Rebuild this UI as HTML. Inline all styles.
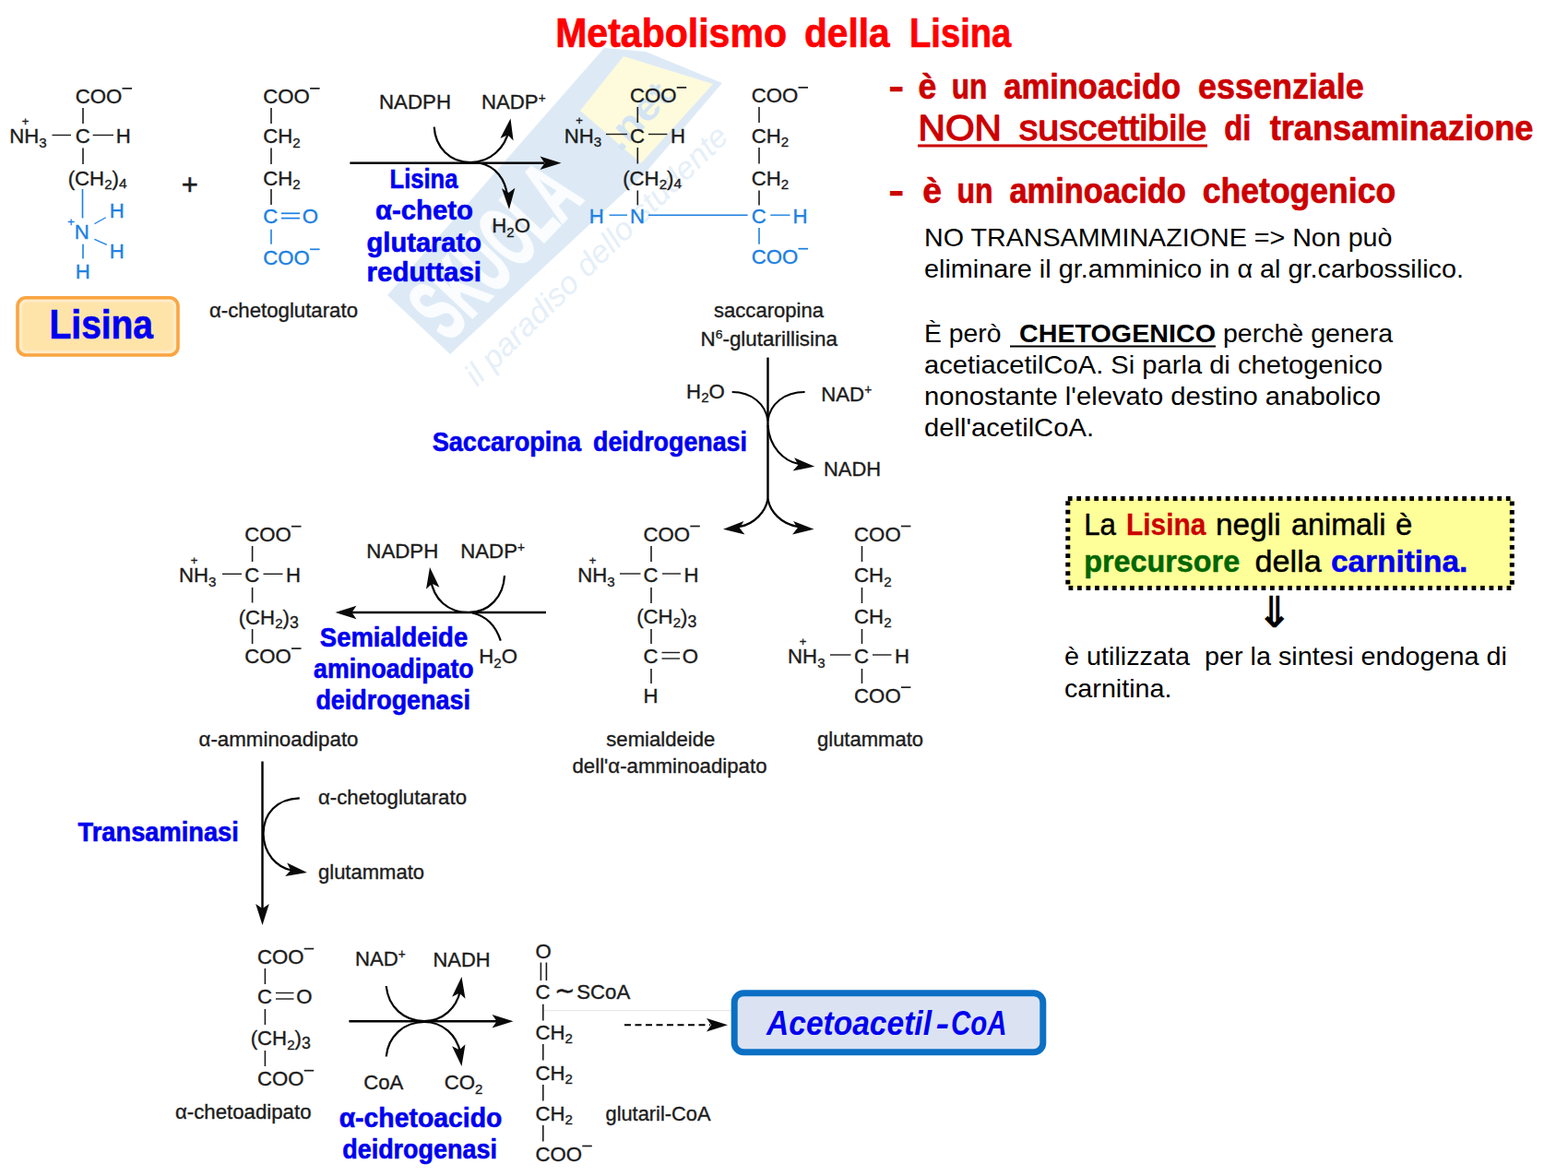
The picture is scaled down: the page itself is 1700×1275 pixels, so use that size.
<!DOCTYPE html>
<html lang="it">
<head>
<meta charset="utf-8">
<title>Metabolismo della Lisina</title>
<style>
html,body{margin:0;padding:0;background:#fff;}
body{width:1700px;height:1275px;overflow:hidden;font-family:'Liberation Sans',Arial,Helvetica,sans-serif;}
svg{display:block;position:absolute;left:0;top:0;}
text{font-family:'Liberation Sans',Arial,Helvetica,sans-serif;white-space:pre;}
</style>
</head>
<body>
<svg width="1700" height="1275" viewBox="0 0 1700 1275">
<rect x="0" y="0" width="1700" height="1275" fill="#ffffff"/>
<g>
<polygon points="420,320 655,52 700,56 783,90 700,187 488,384" fill="#ddeaf6"/>
<polygon points="676,61 773,91 695,177 629,120" fill="#fdfbdc"/>
<text transform="translate(486,372) rotate(-46.5)" font-size="96" font-weight="bold" fill="#fafcfe" stroke="#fafcfe" stroke-width="2.5" textLength="215" lengthAdjust="spacingAndGlyphs">SKUOLA</text>
<text transform="translate(672,166) rotate(-46)" font-size="42" font-weight="bold" fill="#d3e4f3" textLength="84" lengthAdjust="spacingAndGlyphs">.net</text>
<text transform="translate(517,420) rotate(-44.5)" font-size="34" font-style="italic" fill="#e6eff8" textLength="385" lengthAdjust="spacingAndGlyphs">il paradiso dello studente</text>
</g>
<text x="602.2" y="50.5" font-size="43.50" fill="#ff0000" font-weight="bold" textLength="250.8" lengthAdjust="spacingAndGlyphs" stroke="#ff0000" stroke-width="0.70" stroke-linejoin="round">Metabolismo</text>
<text x="872.0" y="50.5" font-size="43.50" fill="#ff0000" font-weight="bold" textLength="92.7" lengthAdjust="spacingAndGlyphs" stroke="#ff0000" stroke-width="0.70" stroke-linejoin="round">della</text>
<text x="986.0" y="50.5" font-size="43.50" fill="#ff0000" font-weight="bold" textLength="110.3" lengthAdjust="spacingAndGlyphs" stroke="#ff0000" stroke-width="0.70" stroke-linejoin="round">Lisina</text>
<text x="963.5" y="106.8" font-size="38.50" fill="#cc0000" font-weight="bold" textLength="16.5" lengthAdjust="spacingAndGlyphs" stroke="#cc0000" stroke-width="0.70" stroke-linejoin="round">-</text>
<text x="995.5" y="106.8" font-size="38.50" fill="#cc0000" font-weight="bold" textLength="19.8" lengthAdjust="spacingAndGlyphs" stroke="#cc0000" stroke-width="0.70" stroke-linejoin="round">è</text>
<text x="1031.8" y="106.8" font-size="38.50" fill="#cc0000" font-weight="bold" textLength="38.6" lengthAdjust="spacingAndGlyphs" stroke="#cc0000" stroke-width="0.70" stroke-linejoin="round">un</text>
<text x="1088.2" y="106.8" font-size="38.50" fill="#cc0000" font-weight="bold" textLength="192.0" lengthAdjust="spacingAndGlyphs" stroke="#cc0000" stroke-width="0.70" stroke-linejoin="round">aminoacido</text>
<text x="1299.0" y="106.8" font-size="38.50" fill="#cc0000" font-weight="bold" textLength="179.8" lengthAdjust="spacingAndGlyphs" stroke="#cc0000" stroke-width="0.70" stroke-linejoin="round">essenziale</text>
<text x="995.5" y="152.2" font-size="38.50" fill="#cc0000" textLength="90.4" lengthAdjust="spacingAndGlyphs" stroke="#cc0000" stroke-width="1.30" stroke-linejoin="round">NON</text>
<text x="1104.7" y="152.2" font-size="38.50" fill="#cc0000" textLength="203.8" lengthAdjust="spacingAndGlyphs" stroke="#cc0000" stroke-width="1.30" stroke-linejoin="round">suscettibile</text>
<line x1="995.0" y1="158.0" x2="1309.0" y2="158.0" stroke="#cc0000" stroke-width="3.00" />
<text x="1327.3" y="152.2" font-size="38.50" fill="#cc0000" font-weight="bold" textLength="29.2" lengthAdjust="spacingAndGlyphs" stroke="#cc0000" stroke-width="0.70" stroke-linejoin="round">di</text>
<text x="1376.7" y="152.2" font-size="38.50" fill="#cc0000" font-weight="bold" textLength="285.7" lengthAdjust="spacingAndGlyphs" stroke="#cc0000" stroke-width="0.70" stroke-linejoin="round">transaminazione</text>
<text x="963.5" y="219.8" font-size="38.50" fill="#cc0000" font-weight="bold" textLength="16.5" lengthAdjust="spacingAndGlyphs" stroke="#cc0000" stroke-width="0.70" stroke-linejoin="round">-</text>
<text x="1000.2" y="219.8" font-size="38.50" fill="#cc0000" font-weight="bold" textLength="20.8" lengthAdjust="spacingAndGlyphs" stroke="#cc0000" stroke-width="0.70" stroke-linejoin="round">è</text>
<text x="1037.4" y="219.8" font-size="38.50" fill="#cc0000" font-weight="bold" textLength="39.1" lengthAdjust="spacingAndGlyphs" stroke="#cc0000" stroke-width="0.70" stroke-linejoin="round">un</text>
<text x="1094.4" y="219.8" font-size="38.50" fill="#cc0000" font-weight="bold" textLength="191.5" lengthAdjust="spacingAndGlyphs" stroke="#cc0000" stroke-width="0.70" stroke-linejoin="round">aminoacido</text>
<text x="1303.8" y="219.8" font-size="38.50" fill="#cc0000" font-weight="bold" textLength="209.4" lengthAdjust="spacingAndGlyphs" stroke="#cc0000" stroke-width="0.70" stroke-linejoin="round">chetogenico</text>
<text x="1002.0" y="267.3" font-size="28.30" fill="#000000" textLength="507.5" lengthAdjust="spacingAndGlyphs">NO TRANSAMMINAZIONE =&gt; Non può</text>
<text x="1002.0" y="301.2" font-size="28.30" fill="#000000" textLength="585.0" lengthAdjust="spacingAndGlyphs">eliminare il gr.amminico in α al gr.carbossilico.</text>
<text x="1002.0" y="371.0" font-size="28.30" fill="#000000">È però </text>
<text x="1097.0" y="371.0" font-size="28.30" fill="#000000" font-weight="bold" textLength="221.0" lengthAdjust="spacingAndGlyphs"> CHETOGENICO</text>
<line x1="1095.0" y1="375.5" x2="1318.0" y2="375.5" stroke="#000000" stroke-width="2.20" />
<text x="1326.0" y="371.0" font-size="28.30" fill="#000000" textLength="184.0" lengthAdjust="spacingAndGlyphs">perchè genera</text>
<text x="1002.0" y="404.7" font-size="28.30" fill="#000000" textLength="497.0" lengthAdjust="spacingAndGlyphs">acetiacetilCoA. Si parla di chetogenico</text>
<text x="1002.0" y="438.6" font-size="28.30" fill="#000000" textLength="495.0" lengthAdjust="spacingAndGlyphs">nonostante l'elevato destino anabolico</text>
<text x="1002.0" y="473.0" font-size="28.30" fill="#000000" textLength="184.0" lengthAdjust="spacingAndGlyphs">dell'acetilCoA.</text>
<rect x="1157.8" y="540.5" width="481.5" height="97" fill="#ffff99" stroke="#000" stroke-width="5" stroke-dasharray="4.75 4.75"/>
<text x="1175.2" y="579.5" font-size="33.50" fill="#000000" textLength="34.8" lengthAdjust="spacingAndGlyphs" stroke="#000000" stroke-width="0.45" stroke-linejoin="round">La</text>
<text x="1221.0" y="579.5" font-size="33.50" fill="#cc0000" font-weight="bold" textLength="86.5" lengthAdjust="spacingAndGlyphs" stroke="#cc0000" stroke-width="0.30" stroke-linejoin="round">Lisina</text>
<text x="1318.0" y="579.5" font-size="33.50" fill="#000000" textLength="70.7" lengthAdjust="spacingAndGlyphs" stroke="#000000" stroke-width="0.45" stroke-linejoin="round">negli</text>
<text x="1400.0" y="579.5" font-size="33.50" fill="#000000" textLength="102.4" lengthAdjust="spacingAndGlyphs" stroke="#000000" stroke-width="0.45" stroke-linejoin="round">animali</text>
<text x="1513.0" y="579.5" font-size="33.50" fill="#000000" textLength="18.3" lengthAdjust="spacingAndGlyphs" stroke="#000000" stroke-width="0.45" stroke-linejoin="round">è</text>
<text x="1175.2" y="620.0" font-size="33.50" fill="#006600" font-weight="bold" textLength="169.0" lengthAdjust="spacingAndGlyphs" stroke="#006600" stroke-width="0.50" stroke-linejoin="round">precursore</text>
<text x="1360.5" y="620.0" font-size="33.50" fill="#000000" textLength="72.3" lengthAdjust="spacingAndGlyphs" stroke="#000000" stroke-width="0.45" stroke-linejoin="round">della</text>
<text x="1443.0" y="620.0" font-size="33.50" fill="#0000f0" font-weight="bold" textLength="148.3" lengthAdjust="spacingAndGlyphs" stroke="#0000f0" stroke-width="0.50" stroke-linejoin="round">carnitina.</text>
<text x="1381.7" y="680.0" font-size="47.00" fill="#000000" font-weight="bold" text-anchor="middle" style="font-family:'DejaVu Sans','Liberation Sans',sans-serif">⇓</text>
<text x="1154.0" y="720.6" font-size="28.30" fill="#000000" textLength="480.0" lengthAdjust="spacingAndGlyphs">è utilizzata  per la sintesi endogena di</text>
<text x="1154.0" y="756.0" font-size="28.30" fill="#000000" textLength="116.5" lengthAdjust="spacingAndGlyphs">carnitina.</text>
<rect x="19" y="322.8" width="174" height="62.2" rx="9" ry="9" fill="#ffe4aa" stroke="#f9a544" stroke-width="3.6"/>
<rect x="22.5" y="326.3" width="167" height="55.2" rx="6.5" ry="6.5" fill="none" stroke="#ffeccb" stroke-width="2.5"/>
<text x="53.6" y="367.0" font-size="43.50" fill="#0000f0" font-weight="bold" textLength="112.4" lengthAdjust="spacingAndGlyphs" stroke="#0000f0" stroke-width="0.70" stroke-linejoin="round">Lisina</text>
<line x1="589.0" y1="1095.6" x2="793.0" y2="1095.6" stroke="#e9e9e9" stroke-width="1.20" />
<rect x="796.2" y="1076.7" width="334.6" height="64" rx="10" ry="10" fill="#dbe3f3" stroke="#0b6fc4" stroke-width="7"/>
<text x="831.0" y="1122.0" font-size="36.00" fill="#0000f0" font-weight="bold" font-style="italic" textLength="179.0" lengthAdjust="spacingAndGlyphs" stroke="#0000f0" stroke-width="0.01" stroke-linejoin="round">Acetoacetil</text>
<text x="1014.4" y="1122.0" font-size="36.00" fill="#0000f0" font-weight="bold" font-style="italic" textLength="14.6" lengthAdjust="spacingAndGlyphs" stroke="#0000f0" stroke-width="0.01" stroke-linejoin="round">-</text>
<text x="1031.0" y="1122.0" font-size="36.00" fill="#0000f0" font-weight="bold" font-style="italic" textLength="60.5" lengthAdjust="spacingAndGlyphs" stroke="#0000f0" stroke-width="0.01" stroke-linejoin="round">CoA</text>
<text x="422.5" y="204.0" font-size="29.00" fill="#0000f0" font-weight="bold" textLength="74.0" lengthAdjust="spacingAndGlyphs" stroke="#0000f0" stroke-width="0.60" stroke-linejoin="round">Lisina</text>
<text x="407.0" y="238.2" font-size="29.00" fill="#0000f0" font-weight="bold" textLength="106.0" lengthAdjust="spacingAndGlyphs" stroke="#0000f0" stroke-width="0.60" stroke-linejoin="round">α-cheto</text>
<text x="397.6" y="272.8" font-size="29.00" fill="#0000f0" font-weight="bold" textLength="124.4" lengthAdjust="spacingAndGlyphs" stroke="#0000f0" stroke-width="0.60" stroke-linejoin="round">glutarato</text>
<text x="397.6" y="305.3" font-size="29.00" fill="#0000f0" font-weight="bold" textLength="124.4" lengthAdjust="spacingAndGlyphs" stroke="#0000f0" stroke-width="0.60" stroke-linejoin="round">reduttasi</text>
<text x="468.7" y="488.5" font-size="29.00" fill="#0000f0" font-weight="bold" textLength="161.3" lengthAdjust="spacingAndGlyphs" stroke="#0000f0" stroke-width="0.60" stroke-linejoin="round">Saccaropina</text>
<text x="643.0" y="488.5" font-size="29.00" fill="#0000f0" font-weight="bold" textLength="167.0" lengthAdjust="spacingAndGlyphs" stroke="#0000f0" stroke-width="0.60" stroke-linejoin="round">deidrogenasi</text>
<text x="346.8" y="701.0" font-size="29.00" fill="#0000f0" font-weight="bold" textLength="160.4" lengthAdjust="spacingAndGlyphs" stroke="#0000f0" stroke-width="0.60" stroke-linejoin="round">Semialdeide</text>
<text x="340.1" y="734.7" font-size="29.00" fill="#0000f0" font-weight="bold" textLength="173.5" lengthAdjust="spacingAndGlyphs" stroke="#0000f0" stroke-width="0.60" stroke-linejoin="round">aminoadipato</text>
<text x="342.4" y="768.8" font-size="29.00" fill="#0000f0" font-weight="bold" textLength="167.6" lengthAdjust="spacingAndGlyphs" stroke="#0000f0" stroke-width="0.60" stroke-linejoin="round">deidrogenasi</text>
<text x="84.6" y="911.7" font-size="29.00" fill="#0000f0" font-weight="bold" textLength="174.2" lengthAdjust="spacingAndGlyphs" stroke="#0000f0" stroke-width="0.60" stroke-linejoin="round">Transaminasi</text>
<text x="367.7" y="1221.5" font-size="29.00" fill="#0000f0" font-weight="bold" textLength="176.6" lengthAdjust="spacingAndGlyphs" stroke="#0000f0" stroke-width="0.60" stroke-linejoin="round">α-chetoacido</text>
<text x="371.2" y="1255.5" font-size="29.00" fill="#0000f0" font-weight="bold" textLength="167.8" lengthAdjust="spacingAndGlyphs" stroke="#0000f0" stroke-width="0.60" stroke-linejoin="round">deidrogenasi</text>
<text x="81.7" y="112.2" font-size="22.20" fill="#1c1c1c" stroke="#1c1c1c" stroke-width="0.35">COO</text>
<line x1="132.5" y1="95.9" x2="143.0" y2="95.9" stroke="#1c1c1c" stroke-width="1.70" />
<line x1="90.0" y1="117.0" x2="90.0" y2="134.0" stroke="#1c1c1c" stroke-width="1.60" />
<text x="10.3" y="155.3" font-size="22.20" fill="#1c1c1c" stroke="#1c1c1c" stroke-width="0.35">NH<tspan dy="4.44" font-size="15.10">3</tspan></text>
<text x="27.5" y="136.0" font-size="13.00" fill="#1c1c1c" text-anchor="middle" stroke="#1c1c1c" stroke-width="0.35">+</text>
<line x1="56.5" y1="146.5" x2="77.0" y2="146.5" stroke="#1c1c1c" stroke-width="1.40" />
<text x="81.7" y="155.3" font-size="22.20" fill="#1c1c1c" stroke="#1c1c1c" stroke-width="0.35">C</text>
<line x1="100.6" y1="146.5" x2="123.0" y2="146.5" stroke="#1c1c1c" stroke-width="1.40" />
<text x="125.7" y="155.3" font-size="22.20" fill="#1c1c1c" stroke="#1c1c1c" stroke-width="0.35">H</text>
<line x1="90.0" y1="160.6" x2="90.0" y2="178.0" stroke="#1c1c1c" stroke-width="1.60" />
<text x="73.7" y="200.5" font-size="22.20" fill="#1c1c1c" stroke="#1c1c1c" stroke-width="0.35">(CH<tspan dy="4.44" font-size="15.10">2</tspan><tspan dy="-4.44">)</tspan><tspan dy="3.55" font-size="15.54">4</tspan></text>
<line x1="89.5" y1="205.0" x2="89.5" y2="236.5" stroke="#1c80e2" stroke-width="1.60" />
<text x="80.7" y="258.7" font-size="22.20" fill="#1c80e2" stroke="#1c80e2" stroke-width="0.35">N</text>
<text x="77.0" y="245.0" font-size="13.00" fill="#1c80e2" text-anchor="middle" stroke="#1c80e2" stroke-width="0.35">+</text>
<text x="118.7" y="235.8" font-size="22.20" fill="#1c80e2" stroke="#1c80e2" stroke-width="0.35">H</text>
<line x1="102.4" y1="242.8" x2="114.7" y2="235.8" stroke="#1c80e2" stroke-width="1.30" />
<text x="118.7" y="280.0" font-size="22.20" fill="#1c80e2" stroke="#1c80e2" stroke-width="0.35">H</text>
<line x1="102.4" y1="259.4" x2="115.8" y2="265.4" stroke="#1c80e2" stroke-width="1.30" />
<line x1="90.0" y1="264.7" x2="90.0" y2="280.6" stroke="#1c80e2" stroke-width="1.60" />
<text x="81.7" y="301.8" font-size="22.20" fill="#1c80e2" stroke="#1c80e2" stroke-width="0.35">H</text>
<text x="205.8" y="210.5" font-size="31.00" fill="#1c1c1c" text-anchor="middle" stroke="#1c1c1c" stroke-width="0.5">+</text>
<text x="285.3" y="112.2" font-size="22.20" fill="#1c1c1c" stroke="#1c1c1c" stroke-width="0.35">COO</text>
<line x1="336.1" y1="95.9" x2="346.6" y2="95.9" stroke="#1c1c1c" stroke-width="1.70" />
<line x1="294.0" y1="117.0" x2="294.0" y2="134.0" stroke="#1c1c1c" stroke-width="1.60" />
<text x="285.3" y="155.3" font-size="22.20" fill="#1c1c1c" stroke="#1c1c1c" stroke-width="0.35">CH<tspan dy="4.44" font-size="15.10">2</tspan></text>
<line x1="294.0" y1="160.6" x2="294.0" y2="178.0" stroke="#1c1c1c" stroke-width="1.60" />
<text x="285.3" y="200.5" font-size="22.20" fill="#1c1c1c" stroke="#1c1c1c" stroke-width="0.35">CH<tspan dy="4.44" font-size="15.10">2</tspan></text>
<line x1="294.0" y1="205.0" x2="294.0" y2="222.0" stroke="#1c1c1c" stroke-width="1.60" />
<text x="285.3" y="242.2" font-size="22.20" fill="#1c80e2" stroke="#1c80e2" stroke-width="0.35">C</text>
<text x="327.7" y="242.2" font-size="22.20" fill="#1c80e2" stroke="#1c80e2" stroke-width="0.35">O</text>
<line x1="305.0" y1="231.3" x2="325.0" y2="231.3" stroke="#1c80e2" stroke-width="1.70" />
<line x1="305.0" y1="236.6" x2="325.0" y2="236.6" stroke="#1c80e2" stroke-width="1.70" />
<line x1="294.0" y1="248.8" x2="294.0" y2="264.7" stroke="#1c80e2" stroke-width="1.60" />
<text x="285.3" y="286.6" font-size="22.20" fill="#1c80e2" stroke="#1c80e2" stroke-width="0.35">COO</text>
<line x1="336.1" y1="270.3" x2="346.6" y2="270.3" stroke="#1c80e2" stroke-width="1.70" />
<text x="227.0" y="343.7" font-size="21.50" fill="#1c1c1c" textLength="161.0" lengthAdjust="spacingAndGlyphs" stroke="#1c1c1c" stroke-width="0.35">α-chetoglutarato</text>
<line x1="379.4" y1="176.8" x2="590.0" y2="176.8" stroke="#000" stroke-width="2.40" />
<polygon points="608.5,176.8 585.5,184.1 590.6,176.8 585.5,169.6" fill="#0a0a0a"/>
<text x="411.0" y="118.2" font-size="22.20" fill="#1c1c1c" textLength="78.0" lengthAdjust="spacingAndGlyphs" stroke="#1c1c1c" stroke-width="0.35">NADPH</text>
<text x="522.0" y="118.2" font-size="22.20" fill="#1c1c1c" stroke="#1c1c1c" stroke-width="0.35">NADP<tspan dy="-7.55" font-size="13.76">+</tspan></text>
<path d="M470.7,137.6 C472,160 488,176 510,176 C532,176 548,160 552,140" stroke="#000" stroke-width="2.20" fill="none" />
<polygon points="553.5,128.5 556.6,152.4 550.4,146.2 542.4,149.9" fill="#0a0a0a"/>
<path d="M519,176.5 C538,180 548,195 550,212" stroke="#000" stroke-width="2.20" fill="none" />
<polygon points="552.0,227.0 544.0,204.3 551.4,209.1 558.4,203.8" fill="#0a0a0a"/>
<text x="533.3" y="252.4" font-size="22.20" fill="#1c1c1c" stroke="#1c1c1c" stroke-width="0.35">H<tspan dy="4.44" font-size="15.10">2</tspan><tspan dy="-4.44">O</tspan></text>
<text x="682.9" y="111.2" font-size="22.20" fill="#1c1c1c" stroke="#1c1c1c" stroke-width="0.35">COO</text>
<line x1="733.7" y1="94.9" x2="744.2" y2="94.9" stroke="#1c1c1c" stroke-width="1.70" />
<line x1="691.3" y1="116.0" x2="691.3" y2="133.0" stroke="#1c1c1c" stroke-width="1.60" />
<text x="611.7" y="154.6" font-size="22.20" fill="#1c1c1c" stroke="#1c1c1c" stroke-width="0.35">NH<tspan dy="4.44" font-size="15.10">3</tspan></text>
<text x="628.0" y="135.0" font-size="13.00" fill="#1c1c1c" text-anchor="middle" stroke="#1c1c1c" stroke-width="0.35">+</text>
<line x1="657.0" y1="145.5" x2="680.0" y2="145.5" stroke="#1c1c1c" stroke-width="1.40" />
<text x="682.9" y="154.6" font-size="22.20" fill="#1c1c1c" stroke="#1c1c1c" stroke-width="0.35">C</text>
<line x1="703.0" y1="145.5" x2="723.4" y2="145.5" stroke="#1c1c1c" stroke-width="1.40" />
<text x="727.1" y="154.6" font-size="22.20" fill="#1c1c1c" stroke="#1c1c1c" stroke-width="0.35">H</text>
<line x1="691.3" y1="160.0" x2="691.3" y2="177.5" stroke="#1c1c1c" stroke-width="1.60" />
<text x="675.2" y="200.5" font-size="22.20" fill="#1c1c1c" stroke="#1c1c1c" stroke-width="0.35">(CH<tspan dy="4.44" font-size="15.10">2</tspan><tspan dy="-4.44">)</tspan><tspan dy="3.55" font-size="15.54">4</tspan></text>
<line x1="691.3" y1="206.5" x2="691.3" y2="222.4" stroke="#1c1c1c" stroke-width="1.60" />
<text x="638.7" y="241.5" font-size="22.20" fill="#1c80e2" stroke="#1c80e2" stroke-width="0.35">H</text>
<line x1="660.6" y1="233.2" x2="680.0" y2="233.2" stroke="#1c80e2" stroke-width="1.40" />
<text x="682.9" y="241.5" font-size="22.20" fill="#1c80e2" stroke="#1c80e2" stroke-width="0.35">N</text>
<line x1="703.0" y1="233.2" x2="810.6" y2="233.2" stroke="#1c80e2" stroke-width="1.40" />
<text x="814.7" y="241.5" font-size="22.20" fill="#1c80e2" stroke="#1c80e2" stroke-width="0.35">C</text>
<line x1="835.3" y1="233.2" x2="856.5" y2="233.2" stroke="#1c80e2" stroke-width="1.40" />
<text x="859.4" y="241.5" font-size="22.20" fill="#1c80e2" stroke="#1c80e2" stroke-width="0.35">H</text>
<text x="814.7" y="111.2" font-size="22.20" fill="#1c1c1c" stroke="#1c1c1c" stroke-width="0.35">COO</text>
<line x1="865.5" y1="94.9" x2="876.0" y2="94.9" stroke="#1c1c1c" stroke-width="1.70" />
<line x1="823.0" y1="116.0" x2="823.0" y2="133.0" stroke="#1c1c1c" stroke-width="1.60" />
<text x="814.7" y="154.6" font-size="22.20" fill="#1c1c1c" stroke="#1c1c1c" stroke-width="0.35">CH<tspan dy="4.44" font-size="15.10">2</tspan></text>
<line x1="823.0" y1="160.0" x2="823.0" y2="177.5" stroke="#1c1c1c" stroke-width="1.60" />
<text x="814.7" y="200.5" font-size="22.20" fill="#1c1c1c" stroke="#1c1c1c" stroke-width="0.35">CH<tspan dy="4.44" font-size="15.10">2</tspan></text>
<line x1="823.0" y1="206.5" x2="823.0" y2="222.4" stroke="#1c1c1c" stroke-width="1.60" />
<line x1="823.0" y1="247.0" x2="823.0" y2="264.7" stroke="#1c80e2" stroke-width="1.60" />
<text x="814.7" y="286.0" font-size="22.20" fill="#1c80e2" stroke="#1c80e2" stroke-width="0.35">COO</text>
<line x1="865.5" y1="269.7" x2="876.0" y2="269.7" stroke="#1c80e2" stroke-width="1.70" />
<text x="774.0" y="343.7" font-size="21.50" fill="#1c1c1c" textLength="119.0" lengthAdjust="spacingAndGlyphs" stroke="#1c1c1c" stroke-width="0.35">saccaropina</text>
<text x="759.5" y="374.7" font-size="21.50" fill="#1c1c1c" textLength="148.5" lengthAdjust="spacingAndGlyphs" stroke="#1c1c1c" stroke-width="0.35">N<tspan dy="-7.31" font-size="13.33">6</tspan><tspan dy="7.31">-glutarillisina</tspan></text>
<line x1="832.5" y1="387.6" x2="832.5" y2="541.6" stroke="#000" stroke-width="2.40" />
<text x="744.1" y="431.6" font-size="22.20" fill="#1c1c1c" stroke="#1c1c1c" stroke-width="0.35">H<tspan dy="4.44" font-size="15.10">2</tspan><tspan dy="-4.44">O</tspan></text>
<path d="M793.7,425 C815,425 830,438 832.5,456" stroke="#000" stroke-width="2.00" fill="none" />
<text x="890.3" y="435.0" font-size="22.20" fill="#1c1c1c" stroke="#1c1c1c" stroke-width="0.35">NAD<tspan dy="-7.55" font-size="13.76">+</tspan></text>
<path d="M872.6,425 C850,425 835,438 832.5,456" stroke="#000" stroke-width="2.00" fill="none" />
<path d="M832.5,461 C834,485 850,500 866,503" stroke="#000" stroke-width="2.20" fill="none" />
<polygon points="883.2,505.8 859.6,510.6 865.4,503.9 861.1,496.2" fill="#0a0a0a"/>
<text x="893.0" y="515.7" font-size="22.20" fill="#1c1c1c" textLength="62.0" lengthAdjust="spacingAndGlyphs" stroke="#1c1c1c" stroke-width="0.35">NADH</text>
<path d="M832.5,541 C830,555 818,568 802,571" stroke="#000" stroke-width="2.20" fill="none" />
<polygon points="784.0,573.8 806.4,565.0 801.9,572.5 807.4,579.4" fill="#0a0a0a"/>
<path d="M832.5,541 C835,555 847,568 865,571" stroke="#000" stroke-width="2.20" fill="none" />
<polygon points="882.5,573.8 859.1,579.4 864.6,572.5 860.1,565.0" fill="#0a0a0a"/>
<text x="697.5" y="586.8" font-size="22.20" fill="#1c1c1c" stroke="#1c1c1c" stroke-width="0.35">COO</text>
<line x1="748.3" y1="570.5" x2="758.8" y2="570.5" stroke="#1c1c1c" stroke-width="1.70" />
<line x1="706.0" y1="592.0" x2="706.0" y2="609.0" stroke="#1c1c1c" stroke-width="1.60" />
<text x="626.3" y="631.3" font-size="22.20" fill="#1c1c1c" stroke="#1c1c1c" stroke-width="0.35">NH<tspan dy="4.44" font-size="15.10">3</tspan></text>
<text x="642.5" y="612.0" font-size="13.00" fill="#1c1c1c" text-anchor="middle" stroke="#1c1c1c" stroke-width="0.35">+</text>
<line x1="672.0" y1="622.0" x2="694.5" y2="622.0" stroke="#1c1c1c" stroke-width="1.40" />
<text x="697.5" y="631.3" font-size="22.20" fill="#1c1c1c" stroke="#1c1c1c" stroke-width="0.35">C</text>
<line x1="718.0" y1="622.0" x2="738.0" y2="622.0" stroke="#1c1c1c" stroke-width="1.40" />
<text x="741.5" y="631.3" font-size="22.20" fill="#1c1c1c" stroke="#1c1c1c" stroke-width="0.35">H</text>
<line x1="706.0" y1="637.0" x2="706.0" y2="654.0" stroke="#1c1c1c" stroke-width="1.60" />
<text x="690.2" y="676.0" font-size="22.20" fill="#1c1c1c" stroke="#1c1c1c" stroke-width="0.35">(CH<tspan dy="4.44" font-size="15.10">2</tspan><tspan dy="-4.44">)</tspan><tspan dy="3.55" font-size="17.76">3</tspan></text>
<line x1="706.0" y1="682.0" x2="706.0" y2="698.0" stroke="#1c1c1c" stroke-width="1.60" />
<text x="697.5" y="719.3" font-size="22.20" fill="#1c1c1c" stroke="#1c1c1c" stroke-width="0.35">C</text>
<text x="739.7" y="719.3" font-size="22.20" fill="#1c1c1c" stroke="#1c1c1c" stroke-width="0.35">O</text>
<line x1="717.5" y1="707.5" x2="737.0" y2="707.5" stroke="#1c1c1c" stroke-width="1.40" />
<line x1="717.5" y1="714.0" x2="737.0" y2="714.0" stroke="#1c1c1c" stroke-width="1.40" />
<line x1="706.0" y1="725.0" x2="706.0" y2="741.0" stroke="#1c1c1c" stroke-width="1.60" />
<text x="697.5" y="761.5" font-size="22.20" fill="#1c1c1c" stroke="#1c1c1c" stroke-width="0.35">H</text>
<text x="657.3" y="808.7" font-size="21.50" fill="#1c1c1c" textLength="118.0" lengthAdjust="spacingAndGlyphs" stroke="#1c1c1c" stroke-width="0.35">semialdeide</text>
<text x="620.5" y="837.7" font-size="21.50" fill="#1c1c1c" textLength="211.0" lengthAdjust="spacingAndGlyphs" stroke="#1c1c1c" stroke-width="0.35">dell'α-amminoadipato</text>
<text x="926.1" y="586.8" font-size="22.20" fill="#1c1c1c" stroke="#1c1c1c" stroke-width="0.35">COO</text>
<line x1="976.9" y1="570.5" x2="987.4" y2="570.5" stroke="#1c1c1c" stroke-width="1.70" />
<line x1="934.5" y1="592.0" x2="934.5" y2="609.0" stroke="#1c1c1c" stroke-width="1.60" />
<text x="926.1" y="631.3" font-size="22.20" fill="#1c1c1c" stroke="#1c1c1c" stroke-width="0.35">CH<tspan dy="4.44" font-size="15.10">2</tspan></text>
<line x1="934.5" y1="637.0" x2="934.5" y2="654.0" stroke="#1c1c1c" stroke-width="1.60" />
<text x="926.1" y="676.0" font-size="22.20" fill="#1c1c1c" stroke="#1c1c1c" stroke-width="0.35">CH<tspan dy="4.44" font-size="15.10">2</tspan></text>
<line x1="934.5" y1="682.0" x2="934.5" y2="698.0" stroke="#1c1c1c" stroke-width="1.60" />
<text x="854.1" y="719.3" font-size="22.20" fill="#1c1c1c" stroke="#1c1c1c" stroke-width="0.35">NH<tspan dy="4.44" font-size="15.10">3</tspan></text>
<text x="870.5" y="700.0" font-size="13.00" fill="#1c1c1c" text-anchor="middle" stroke="#1c1c1c" stroke-width="0.35">+</text>
<line x1="900.0" y1="710.0" x2="922.5" y2="710.0" stroke="#1c1c1c" stroke-width="1.40" />
<text x="926.1" y="719.3" font-size="22.20" fill="#1c1c1c" stroke="#1c1c1c" stroke-width="0.35">C</text>
<line x1="946.0" y1="710.0" x2="966.5" y2="710.0" stroke="#1c1c1c" stroke-width="1.40" />
<text x="970.1" y="719.3" font-size="22.20" fill="#1c1c1c" stroke="#1c1c1c" stroke-width="0.35">H</text>
<line x1="934.5" y1="725.0" x2="934.5" y2="741.0" stroke="#1c1c1c" stroke-width="1.60" />
<text x="926.1" y="761.5" font-size="22.20" fill="#1c1c1c" stroke="#1c1c1c" stroke-width="0.35">COO</text>
<line x1="976.9" y1="745.2" x2="987.4" y2="745.2" stroke="#1c1c1c" stroke-width="1.70" />
<text x="886.0" y="808.7" font-size="21.50" fill="#1c1c1c" textLength="115.0" lengthAdjust="spacingAndGlyphs" stroke="#1c1c1c" stroke-width="0.35">glutammato</text>
<text x="265.2" y="587.0" font-size="22.20" fill="#1c1c1c" stroke="#1c1c1c" stroke-width="0.35">COO</text>
<line x1="316.0" y1="570.7" x2="326.5" y2="570.7" stroke="#1c1c1c" stroke-width="1.70" />
<line x1="273.6" y1="592.0" x2="273.6" y2="609.0" stroke="#1c1c1c" stroke-width="1.60" />
<text x="193.9" y="631.2" font-size="22.20" fill="#1c1c1c" stroke="#1c1c1c" stroke-width="0.35">NH<tspan dy="4.44" font-size="15.10">3</tspan></text>
<text x="210.5" y="612.0" font-size="13.00" fill="#1c1c1c" text-anchor="middle" stroke="#1c1c1c" stroke-width="0.35">+</text>
<line x1="241.0" y1="622.3" x2="262.0" y2="622.3" stroke="#1c1c1c" stroke-width="1.40" />
<text x="265.2" y="631.2" font-size="22.20" fill="#1c1c1c" stroke="#1c1c1c" stroke-width="0.35">C</text>
<line x1="285.5" y1="622.3" x2="306.5" y2="622.3" stroke="#1c1c1c" stroke-width="1.40" />
<text x="310.0" y="631.2" font-size="22.20" fill="#1c1c1c" stroke="#1c1c1c" stroke-width="0.35">H</text>
<line x1="273.6" y1="637.0" x2="273.6" y2="653.5" stroke="#1c1c1c" stroke-width="1.60" />
<text x="258.7" y="677.0" font-size="22.20" fill="#1c1c1c" stroke="#1c1c1c" stroke-width="0.35">(CH<tspan dy="4.44" font-size="15.10">2</tspan><tspan dy="-4.44">)</tspan><tspan dy="3.55" font-size="17.76">3</tspan></text>
<line x1="273.6" y1="682.0" x2="273.6" y2="698.0" stroke="#1c1c1c" stroke-width="1.60" />
<text x="265.2" y="719.4" font-size="22.20" fill="#1c1c1c" stroke="#1c1c1c" stroke-width="0.35">COO</text>
<line x1="316.0" y1="703.1" x2="326.5" y2="703.1" stroke="#1c1c1c" stroke-width="1.70" />
<text x="215.5" y="809.4" font-size="21.50" fill="#1c1c1c" textLength="173.0" lengthAdjust="spacingAndGlyphs" stroke="#1c1c1c" stroke-width="0.35">α-amminoadipato</text>
<line x1="381.0" y1="664.0" x2="592.0" y2="664.0" stroke="#000" stroke-width="2.40" />
<polygon points="363.5,664.0 386.5,656.8 381.4,664.0 386.5,671.2" fill="#0a0a0a"/>
<text x="397.3" y="605.4" font-size="22.20" fill="#1c1c1c" textLength="78.0" lengthAdjust="spacingAndGlyphs" stroke="#1c1c1c" stroke-width="0.35">NADPH</text>
<text x="499.3" y="605.4" font-size="22.20" fill="#1c1c1c" stroke="#1c1c1c" stroke-width="0.35">NADP<tspan dy="-7.55" font-size="13.76">+</tspan></text>
<path d="M547,624 C546,647 530,664 508,664 C486,664 470,650 467,628" stroke="#000" stroke-width="2.20" fill="none" />
<polygon points="466.0,615.0 476.4,636.8 468.5,632.8 462.0,638.8" fill="#0a0a0a"/>
<path d="M542.8,694.7 C538,680 528,668 512,664.5" stroke="#000" stroke-width="2.20" fill="none" />
<text x="519.3" y="719.4" font-size="22.20" fill="#1c1c1c" stroke="#1c1c1c" stroke-width="0.35">H<tspan dy="4.44" font-size="15.10">2</tspan><tspan dy="-4.44">O</tspan></text>
<line x1="284.5" y1="825.5" x2="284.5" y2="985.0" stroke="#000" stroke-width="2.40" />
<polygon points="284.5,1003.0 277.2,980.0 284.5,985.1 291.8,980.0" fill="#0a0a0a"/>
<path d="M324.8,865.3 C300,866 285.5,882 285.5,904 C286,926 300,940 316,943.5" stroke="#000" stroke-width="2.20" fill="none" />
<polygon points="333.0,946.0 309.2,950.0 315.2,943.5 311.2,935.6" fill="#0a0a0a"/>
<text x="345.0" y="872.3" font-size="21.50" fill="#1c1c1c" textLength="161.0" lengthAdjust="spacingAndGlyphs" stroke="#1c1c1c" stroke-width="0.35">α-chetoglutarato</text>
<text x="345.0" y="952.6" font-size="21.50" fill="#1c1c1c" textLength="115.0" lengthAdjust="spacingAndGlyphs" stroke="#1c1c1c" stroke-width="0.35">glutammato</text>
<text x="278.9" y="1044.9" font-size="22.20" fill="#1c1c1c" stroke="#1c1c1c" stroke-width="0.35">COO</text>
<line x1="329.7" y1="1028.6" x2="340.2" y2="1028.6" stroke="#1c1c1c" stroke-width="1.70" />
<line x1="287.4" y1="1050.0" x2="287.4" y2="1067.0" stroke="#1c1c1c" stroke-width="1.60" />
<text x="278.9" y="1088.4" font-size="22.20" fill="#1c1c1c" stroke="#1c1c1c" stroke-width="0.35">C</text>
<text x="321.2" y="1088.4" font-size="22.20" fill="#1c1c1c" stroke="#1c1c1c" stroke-width="0.35">O</text>
<line x1="299.0" y1="1076.5" x2="318.5" y2="1076.5" stroke="#1c1c1c" stroke-width="1.40" />
<line x1="299.0" y1="1083.0" x2="318.5" y2="1083.0" stroke="#1c1c1c" stroke-width="1.40" />
<line x1="287.4" y1="1094.0" x2="287.4" y2="1111.0" stroke="#1c1c1c" stroke-width="1.60" />
<text x="271.7" y="1133.4" font-size="22.20" fill="#1c1c1c" stroke="#1c1c1c" stroke-width="0.35">(CH<tspan dy="4.44" font-size="15.10">2</tspan><tspan dy="-4.44">)</tspan><tspan dy="3.55" font-size="17.76">3</tspan></text>
<line x1="287.4" y1="1139.0" x2="287.4" y2="1156.0" stroke="#1c1c1c" stroke-width="1.60" />
<text x="278.9" y="1177.0" font-size="22.20" fill="#1c1c1c" stroke="#1c1c1c" stroke-width="0.35">COO</text>
<line x1="329.7" y1="1160.7" x2="340.2" y2="1160.7" stroke="#1c1c1c" stroke-width="1.70" />
<text x="190.0" y="1213.3" font-size="21.50" fill="#1c1c1c" textLength="147.5" lengthAdjust="spacingAndGlyphs" stroke="#1c1c1c" stroke-width="0.35">α-chetoadipato</text>
<line x1="378.4" y1="1107.3" x2="540.0" y2="1107.3" stroke="#000" stroke-width="2.40" />
<polygon points="556.5,1107.3 533.5,1114.5 538.6,1107.3 533.5,1100.0" fill="#0a0a0a"/>
<text x="385.0" y="1046.6" font-size="22.20" fill="#1c1c1c" stroke="#1c1c1c" stroke-width="0.35">NAD<tspan dy="-7.55" font-size="13.76">+</tspan></text>
<text x="469.5" y="1048.4" font-size="22.20" fill="#1c1c1c" textLength="62.0" lengthAdjust="spacingAndGlyphs" stroke="#1c1c1c" stroke-width="0.35">NADH</text>
<path d="M418.7,1069 C421,1092 438,1107 460,1107 C480,1107 495,1093 499,1074" stroke="#000" stroke-width="2.20" fill="none" />
<polygon points="500.5,1059.0 504.5,1082.8 498.0,1076.8 490.1,1080.8" fill="#0a0a0a"/>
<path d="M418.7,1145.5 C421,1123 438,1108 460,1108 C480,1108 495,1122 499,1141" stroke="#000" stroke-width="2.20" fill="none" />
<polygon points="500.5,1156.0 490.1,1134.2 498.0,1138.2 504.5,1132.2" fill="#0a0a0a"/>
<text x="394.2" y="1181.2" font-size="22.20" fill="#1c1c1c" stroke="#1c1c1c" stroke-width="0.35">CoA</text>
<text x="481.7" y="1181.2" font-size="22.20" fill="#1c1c1c" stroke="#1c1c1c" stroke-width="0.35">CO<tspan dy="4.44" font-size="15.10">2</tspan></text>
<text x="580.5" y="1039.0" font-size="22.20" fill="#1c1c1c" stroke="#1c1c1c" stroke-width="0.35">O</text>
<line x1="586.4" y1="1043.5" x2="586.4" y2="1063.0" stroke="#1c1c1c" stroke-width="1.60" />
<line x1="592.4" y1="1043.5" x2="592.4" y2="1063.0" stroke="#1c1c1c" stroke-width="1.60" />
<text x="580.5" y="1083.0" font-size="22.20" fill="#1c1c1c" stroke="#1c1c1c" stroke-width="0.35">C</text>
<text x="612.5" y="1083.0" font-size="27.00" fill="#1c1c1c" text-anchor="middle" stroke="#1c1c1c" stroke-width="0.35">∼</text>
<text x="625.3" y="1083.0" font-size="22.20" fill="#1c1c1c" stroke="#1c1c1c" stroke-width="0.35">SCoA</text>
<line x1="588.8" y1="1088.7" x2="588.8" y2="1106.4" stroke="#1c1c1c" stroke-width="1.60" />
<text x="580.5" y="1126.5" font-size="22.20" fill="#1c1c1c" stroke="#1c1c1c" stroke-width="0.35">CH<tspan dy="4.44" font-size="15.10">2</tspan></text>
<line x1="588.8" y1="1132.0" x2="588.8" y2="1149.5" stroke="#1c1c1c" stroke-width="1.60" />
<text x="580.5" y="1170.6" font-size="22.20" fill="#1c1c1c" stroke="#1c1c1c" stroke-width="0.35">CH<tspan dy="4.44" font-size="15.10">2</tspan></text>
<line x1="588.8" y1="1176.0" x2="588.8" y2="1193.5" stroke="#1c1c1c" stroke-width="1.60" />
<text x="580.5" y="1214.7" font-size="22.20" fill="#1c1c1c" stroke="#1c1c1c" stroke-width="0.35">CH<tspan dy="4.44" font-size="15.10">2</tspan></text>
<line x1="588.8" y1="1220.0" x2="588.8" y2="1237.5" stroke="#1c1c1c" stroke-width="1.60" />
<text x="580.5" y="1258.8" font-size="22.20" fill="#1c1c1c" stroke="#1c1c1c" stroke-width="0.35">COO</text>
<line x1="631.3" y1="1242.5" x2="641.8" y2="1242.5" stroke="#1c1c1c" stroke-width="1.70" />
<text x="656.5" y="1215.4" font-size="21.50" fill="#1c1c1c" textLength="114.0" lengthAdjust="spacingAndGlyphs" stroke="#1c1c1c" stroke-width="0.35">glutaril-CoA</text>
<line x1="677.0" y1="1111.3" x2="770.0" y2="1111.3" stroke="#000" stroke-width="2.00" stroke-dasharray="7 4.5"/>
<polygon points="789.0,1111.3 766.0,1118.5 771.1,1111.3 766.0,1104.0" fill="#0a0a0a"/>
</svg>
</body>
</html>
